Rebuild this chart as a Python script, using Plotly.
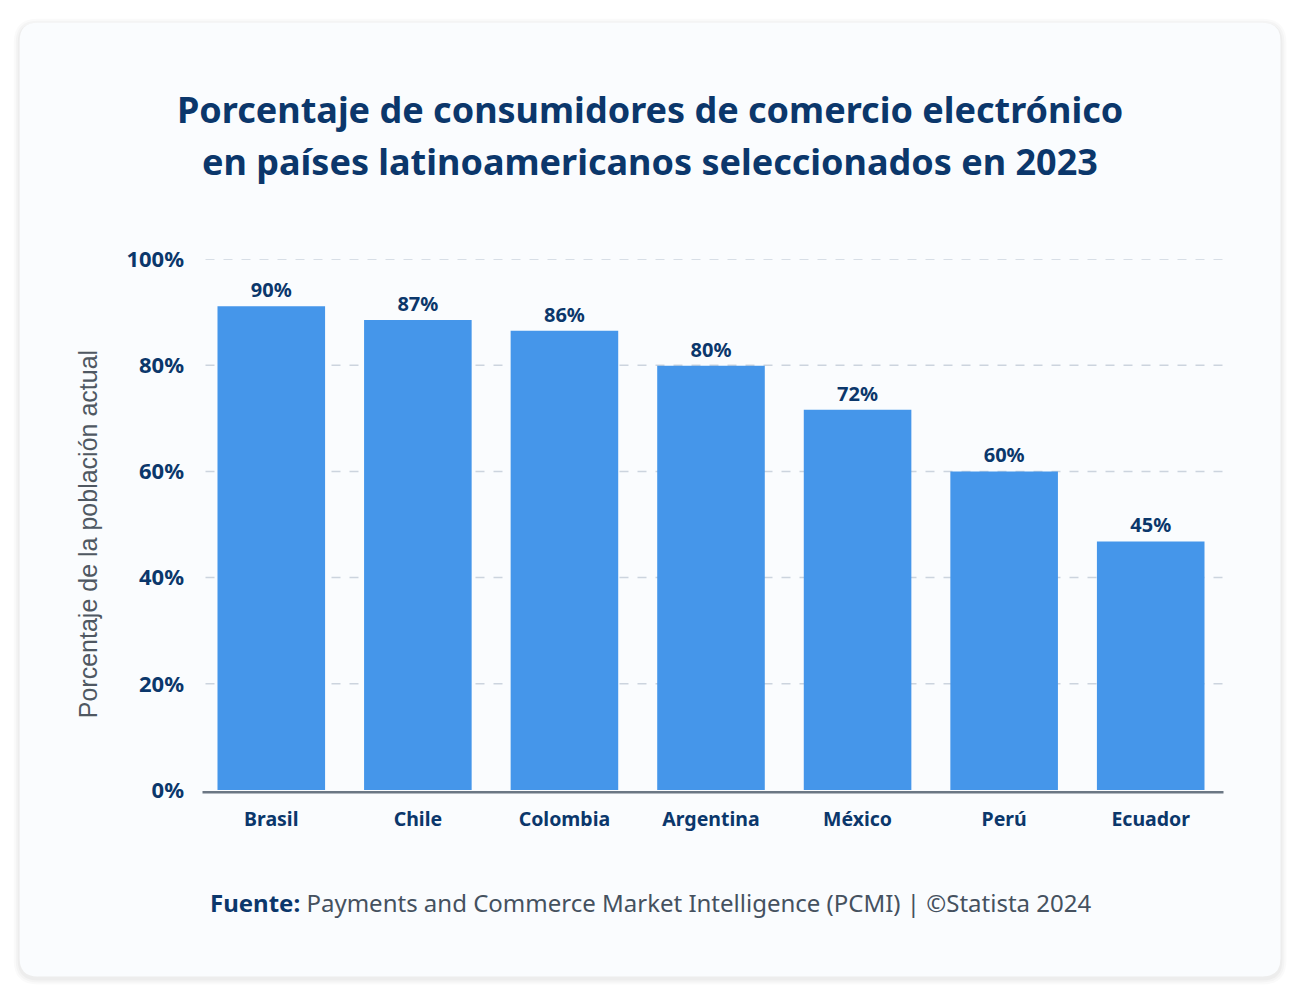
import plotly.graph_objects as go

countries = ["Brasil", "Chile", "Colombia", "Argentina", "México", "Perú", "Ecuador"]
values = [91.1, 88.5, 86.5, 79.9, 71.6, 60.0, 46.8]
value_labels = ["90%", "87%", "86%", "80%", "72%", "60%", "45%"]
y_ticks = [0, 20, 40, 60, 80, 100]
y_tick_labels = ["0%", "20%", "40%", "60%", "80%", "100%"]

OFF = 8  # page body margin
W, H = 1299 - 2 * OFF, 1001 - 2 * OFF
# plot area in screen pixels
SL, SR, ST, SB = 197.5, 1224.5, 259.3, 790.5
L, R, T, B = SL - OFF, SR - OFF, ST - OFF, SB - OFF
PW, PH = R - L, B - T

def px(x):  # screen x -> paper
    return (x - OFF - L) / PW

def py(y):  # screen y -> paper
    return (B - (y - OFF)) / PH

NAVY = "#0b376b"
BLUE = "#4596ea"
FONT_B = "Noto Sans"

def rrect(x0, y0, x1, y1, r):
    X0, X1 = px(x0), px(x1)
    Y0, Y1 = py(y0), py(y1)
    rx, ry = r / PW, r / PH
    return (f"M {X0+rx},{Y0} L {X1-rx},{Y0} Q {X1},{Y0} {X1},{Y0-ry} "
            f"L {X1},{Y1+ry} Q {X1},{Y1} {X1-rx},{Y1} L {X0+rx},{Y1} "
            f"Q {X0},{Y1} {X0},{Y1+ry} L {X0},{Y0-ry} Q {X0},{Y0} {X0+rx},{Y0} Z")

fig = go.Figure()
fig.add_trace(go.Bar(
    x=countries, y=values, text=[f"<b>{t}</b>" for t in value_labels],
    textposition="outside",
    textfont=dict(family=FONT_B, size=20, color=NAVY),
    marker=dict(color=BLUE, line=dict(width=0)), width=0.734,
    cliponaxis=False, hoverinfo="skip",
))

shapes = []
for i, op in enumerate([0.018, 0.022, 0.028]):
    d = 6 - 2 * i
    shapes.append(dict(type="path", xref="paper", yref="paper", layer="below",
                       path=rrect(19 - d, 23 - d + 2, 1281 + d, 977 + d + 2, 18 + d),
                       fillcolor=f"rgba(0,0,0,{op})", line=dict(width=0)))
shapes.append(dict(type="path", xref="paper", yref="paper", layer="below",
                   path=rrect(19, 23, 1281, 977, 18),
                   fillcolor="#fafcfe", line=dict(width=0)))
for v in y_ticks[1:]:
    shapes.append(dict(type="line", xref="paper", yref="y", layer="below",
                       x0=px(205), x1=px(1228), y0=v, y1=v,
                       line=dict(color="#ccd4de", width=1.5, dash="dash")))
shapes.append(dict(type="line", xref="paper", yref="paper", layer="above",
                   x0=px(202), x1=px(1224), y0=py(792.7), y1=py(792.7),
                   line=dict(color="#6b7784", width=2.5)))

annotations = [
    dict(text="<b>Porcentaje de consumidores de comercio electrónico</b>",
         xref="paper", yref="paper", x=px(650), y=py(110), xanchor="center", yanchor="middle",
         showarrow=False, font=dict(family=FONT_B, size=36, color=NAVY)),
    dict(text="<b>en países latinoamericanos seleccionados en 2023</b>",
         xref="paper", yref="paper", x=px(650), y=py(162), xanchor="center", yanchor="middle",
         showarrow=False, font=dict(family=FONT_B, size=36, color=NAVY)),
    dict(text="Porcentaje de la población actual", textangle=-90,
         xref="paper", yref="paper", x=px(87), y=py(535), xanchor="center", yanchor="middle",
         showarrow=False, font=dict(family="Liberation Sans", size=25, color="#4f5862")),
    dict(text="<b><span style='color:#0b376b'>Fuente:</span></b> Payments and Commerce Market Intelligence (PCMI) | ©Statista 2024",
         xref="paper", yref="paper", x=px(650), y=py(903), xanchor="center", yanchor="middle",
         showarrow=False, font=dict(family=FONT_B, size=24, color="#45515f")),
]

fig.update_layout(
    width=W, height=H,
    margin=dict(l=L, r=W - R, t=T, b=H - B, pad=0),
    paper_bgcolor="#ffffff", plot_bgcolor="rgba(0,0,0,0)",
    showlegend=False, shapes=shapes, annotations=annotations,
    xaxis=dict(showgrid=False, showline=False, zeroline=False, ticks="",
               tickvals=countries, ticktext=[f"<b>{c}</b>" for c in countries],
               tickfont=dict(family=FONT_B, size=19.5, color=NAVY),
               ticklabelstandoff=15, fixedrange=True),
    yaxis=dict(range=[0, 100], tickvals=y_ticks,
               ticktext=[f"<b>{t}</b>" for t in y_tick_labels],
               showgrid=False, zeroline=False, showline=False, ticks="",
               tickfont=dict(family=FONT_B, size=22, color=NAVY),
               ticklabelstandoff=13, fixedrange=True),
)

fig.write_html("out.html")
